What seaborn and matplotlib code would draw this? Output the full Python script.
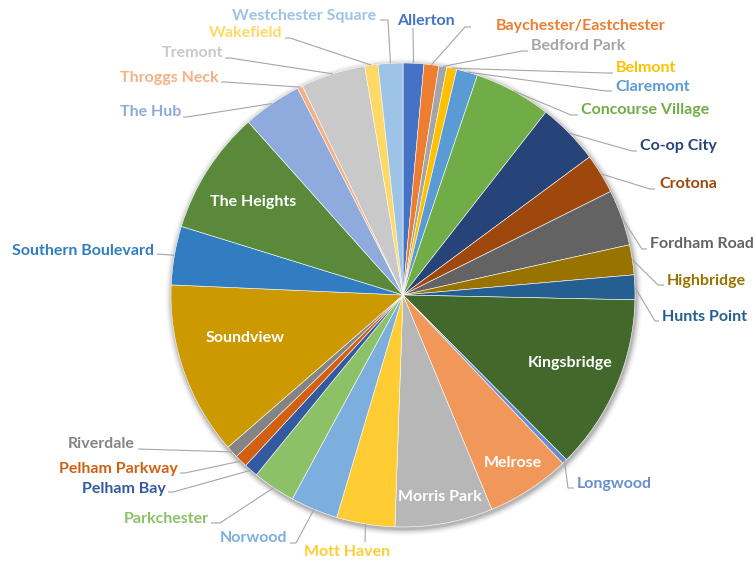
import matplotlib
matplotlib.use("Agg")
import matplotlib.pyplot as plt
import seaborn as sns
import numpy as np

# ---------------- data ----------------
neighborhoods = [
    "Allerton", "Baychester/Eastchester", "Bedford Park", "Belmont", "Claremont",
    "Concourse Village", "Co-op City", "Crotona", "Fordham Road", "Highbridge",
    "Hunts Point", "Kingsbridge", "Longwood", "Melrose", "Morris Park",
    "Mott Haven", "Norwood", "Parkchester", "Pelham Bay", "Pelham Parkway",
    "Riverdale", "Soundview", "Southern Boulevard", "The Heights", "The Hub",
    "Throggs Neck", "Tremont", "Wakefield", "Westchester Square",
]
shares = [
    5.2, 3.7, 2.0, 2.5, 5.3,
    19.3, 15.5, 10.0, 14.0, 7.5,
    6.2, 44.0, 1.3, 21.0, 24.5,
    14.6, 11.9, 10.7, 3.5, 3.2,
    3.1, 43.5, 14.7, 31.0, 14.8,
    1.3, 16.2, 3.3, 6.2,
]
slice_colors = [
    "#4472C4", "#ED7D31", "#A5A5A5", "#FFC000", "#5B9BD5",
    "#70AD47", "#264478", "#9E480E", "#636363", "#997300",
    "#255E91", "#43682B", "#698ED0", "#F1975A", "#B7B7B7",
    "#FFCD33", "#7CAFDD", "#8CC168", "#335AA1", "#D26012",
    "#848484", "#CC9A00", "#327DC2", "#5A8A39", "#8FAADC",
    "#F4B183", "#C9C9C9", "#FFD966", "#9DC3E6",
]

# ---------------- layout (pixel coords, y from top) ----------------
W, H = 756, 563
CX, CY, R = 403, 295, 232
inside = {
    "The Heights": (253, 202), "Soundview": (245, 338), "Kingsbridge": (570, 363),
    "Melrose": (513, 463), "Morris Park": (440, 497),
}
# name: (text x, text y, ha, path points after rim point)
outside = {
    "Allerton": (426, 21, "center", [(413, 28)]),
    "Baychester/Eastchester": (496, 26, "left", [(465, 27), (471, 27)]),
    "Bedford Park": (531, 46, "left", [(522, 51), (528, 51)]),
    "Belmont": (616, 68, "left", [(606, 73), (613, 73)]),
    "Claremont": (615, 87, "left", [(606, 91), (612, 91)]),
    "Concourse Village": (581, 110, "left", [(571, 115), (578, 115)]),
    "Co-op City": (640, 146, "left", [(632, 151), (637, 151)]),
    "Crotona": (659, 184, "left", [(650, 189), (655, 189)]),
    "Fordham Road": (650, 244, "left", [(642, 249), (647, 249)]),
    "Highbridge": (667, 281, "left", [(658, 285), (664, 285)]),
    "Hunts Point": (662, 317, "left", [(655, 321), (659, 321)]),
    "Longwood": (577, 484, "left", [(568, 488), (574, 488)]),
    "Mott Haven": (347, 552, "center", [(365, 542)]),
    "Norwood": (287, 538, "right", [(296, 543), (290, 543)]),
    "Parkchester": (209, 519, "right", [(220, 523), (211, 523)]),
    "Pelham Bay": (166, 489, "right", [(173, 492), (168, 492)]),
    "Pelham Parkway": (178, 469, "right", [(185, 473), (180, 473)]),
    "Riverdale": (135, 444, "right", [(138, 449)]),
    "Southern Boulevard": (154, 251, "right", [(157, 254)]),
    "The Hub": (181, 112, "right", [(187, 117), (183, 117)]),
    "Throggs Neck": (219, 78, "right", [(225, 82), (221, 82)]),
    "Tremont": (223, 53, "right", [(230, 58), (225, 58)]),
    "Wakefield": (282, 33, "right", [(290, 38), (285, 38)]),
    "Westchester Square": (376, 16, "right", [(388, 20), (380, 20)]),
}

sns.set_theme(style="white")
plt.rcParams["font.family"] = ["Lato", "DejaVu Sans"]
palette = sns.color_palette(slice_colors)

fig = plt.figure(figsize=(W / 100, H / 100), dpi=100)
ax = fig.add_axes([0, 0, 1, 1])

# soft shadow halo
for k, a in zip(range(1, 8), [0.09, 0.07, 0.05, 0.04, 0.03, 0.02, 0.01]):
    ax.add_patch(plt.Circle((CX + 1, H - CY - 2), R + k, color="black", alpha=a,
                            lw=0, zorder=0))

wedges, _ = ax.pie(shares, colors=palette, startangle=90, counterclock=False,
                   center=(CX, H - CY), radius=R, frame=True,
                   wedgeprops=dict(edgecolor="white", linewidth=0.4))
ax.set_xlim(0, W)
ax.set_ylim(0, H)
ax.set_aspect("auto")
ax.axis("off")

FS = 11.5
for w, name, col in zip(wedges, neighborhoods, slice_colors):
    if name in inside:
        tx, ty = inside[name]
        ax.text(tx, H - ty, name, color="white", fontsize=FS, fontweight="bold",
                ha="center", va="center")
        continue
    tx, ty, ha, pts = outside[name]
    mid = np.deg2rad((w.theta1 + w.theta2) / 2)
    rx, ry = CX + R * np.cos(mid), (H - CY) + R * np.sin(mid)
    xs = [rx] + [p[0] for p in pts]
    ys = [ry] + [H - p[1] for p in pts]
    ax.plot(xs, ys, color="#A6A6A6", lw=0.8, zorder=1, solid_capstyle="butt")
    ax.text(tx, H - ty, name, color=col, fontsize=FS, fontweight="bold",
            ha=ha, va="center")

fig.savefig("out.png", dpi=100)
